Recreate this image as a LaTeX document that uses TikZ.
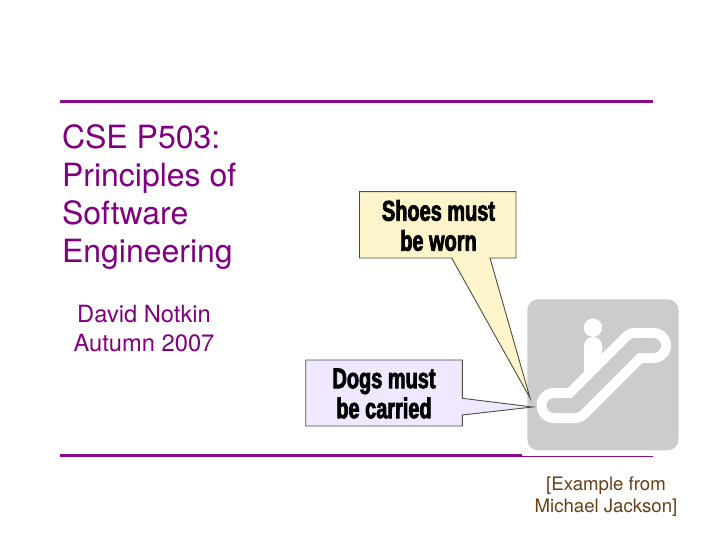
\documentclass[tikz,border=0pt]{standalone}
\usepackage{fontspec}
\setmainfont{TeX Gyre Heros}
\newfontfamily\callfont[FakeStretch=0.70,FakeBold=2.6]{Liberation Sans Bold}
\definecolor{titlepurple}{HTML}{800080}
\definecolor{rulepurple}{HTML}{8A0A8A}
\definecolor{notebrown}{HTML}{663F14}
\definecolor{shoesfill}{HTML}{FFF5CC}
\definecolor{dogsfill}{HTML}{F0E8FF}
\definecolor{signgray}{HTML}{CCCCCC}
\definecolor{boxedge}{HTML}{4D4D40}
\tikzset{
  textblock/.style={inner sep=0pt,outer sep=0pt},
  titletext/.style={textblock,anchor=north west,align=left,text=titlepurple,font=\fontsize{32}{37.8}\selectfont},
  authortext/.style={textblock,anchor=north,align=center,text=titlepurple,font=\fontsize{23.7}{29.5}\selectfont},
  notetext/.style={textblock,anchor=north,align=center,text=notebrown,font=\fontsize{18.6}{22.3}\selectfont},
  calltext/.style={textblock,align=center,text=black,font=\callfont\fontsize{28.5}{30}\selectfont},
  callout/.style={draw=boxedge,line width=0.9pt,line join=miter},
  rulethick/.style={draw=rulepurple,line width=3pt},
  rulethin/.style={draw=rulepurple,line width=1.4pt}
}
\begin{document}
\begin{tikzpicture}[x=1pt,y=-1pt]
\useasboundingbox (0,0) rectangle (720,540);
% rules
\coordinate (topL) at (60,101.5);
\coordinate (topR) at (653,101.5);
\coordinate (botL) at (60,455.5);
\coordinate (botM) at (522,455.5);
\coordinate (botR) at (653,456.5);
\draw[rulethick] (topL) -- (topR);
\draw[rulethick] (botL) -- (botM);
\draw[rulethin] (botM |- botR) -- (botR);
% sign
\fill[signgray,rounded corners=11pt] (527.3,299.3) rectangle (678.5,450.3);
\draw[white,line width=35pt,line cap=round,line join=round] (554,405.5) -- (575,405.5) -- (635,345.5) -- (653.5,345.5);
\draw[signgray,line width=15pt,line cap=round,line join=round] (554,405.5) -- (575,405.5) -- (635,345.5) -- (653.5,345.5);
\fill[white] (593,327.7) circle (9.2pt);
\fill[white] (584,372) -- (584,346) .. controls (584,334) and (602,334) .. (602,346) -- (602,356) -- cycle;
% callouts
\filldraw[callout,fill=shoesfill] (359.5,191.7) -- (516,191.7) -- (516,258) -- (490,258) -- (530,398) -- (451.7,258) -- (359.5,258) -- cycle;
\filldraw[callout,fill=dogsfill] (305.7,360) -- (462.3,360) -- (462.3,398.3) -- (532.7,407) -- (462.3,415) -- (462.3,426) -- (305.7,426) -- cycle;
\node[calltext] (shoes) at (438.5,225.5) {Shoes must\\be worn};
\node[calltext] (dogs) at (384,393.5) {Dogs must\\be carried};
% text
\node[titletext] (title) at (62,125) {CSE P503:\\Principles of\\Software\\Engineering};
\node[authortext] (author) at (144,305) {David Notkin\\Autumn 2007};
\node[notetext] (note) at (606,477) {[Example from\\Michael Jackson]};
\end{tikzpicture}
\end{document}
